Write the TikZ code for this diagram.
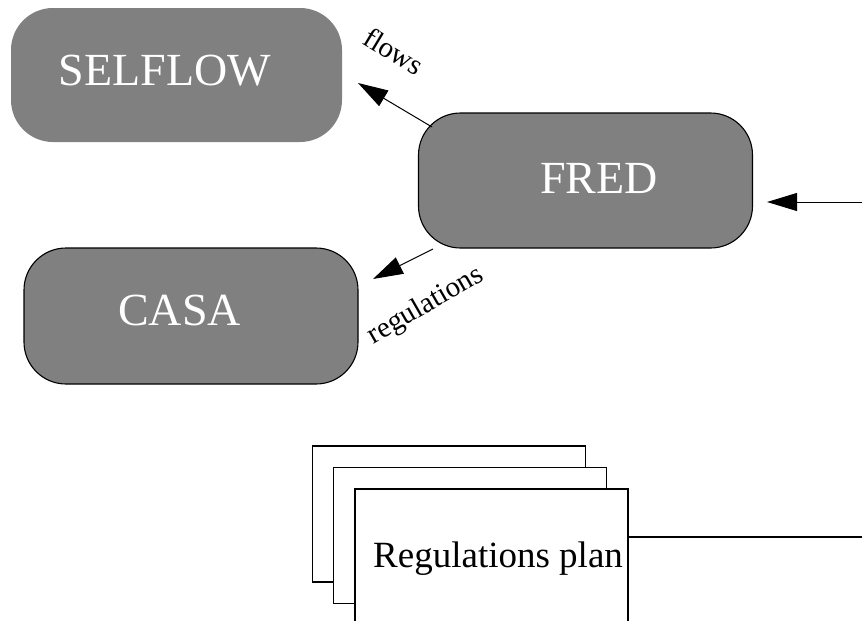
\documentclass[tikz,border=0pt]{standalone}
\usepackage{fontspec}
\setmainfont{Liberation Serif}
\usetikzlibrary{arrows.meta}
\begin{document}
\begin{tikzpicture}[x=1pt,y=-1pt,
  procbox/.style={rectangle, rounded corners=42pt, fill=boxgray, line width=1.1pt,
    inner sep=0pt, minimum width=334pt, minimum height=135pt},
  boxlabel/.style={text=white, inner sep=0pt, font=\fontsize{46}{50}\selectfont},
  edgelabel/.style={inner sep=0pt, font=\fontsize{29}{32}\selectfont},
  sheet/.style={rectangle, draw=black, fill=white, line width=1.3pt, inner sep=0pt,
    minimum width=273pt, minimum height=136pt},
  flowarrow/.style={draw=black, line width=1pt, -{Triangle[length=30pt,width=18pt]}}]
\definecolor{boxgray}{HTML}{808080}
\useasboundingbox (0,0) rectangle (862,621);
\clip (0,0) rectangle (862,621);

% subsystem boxes
\node[procbox, minimum width=331pt, minimum height=134pt] (selflow) at (176.5,75) {};
\node[boxlabel] at (165,71) {SELFLOW};
\node[procbox, draw=black] (fred) at (585.5,180.5) {};
\node[boxlabel] at (599,178.5) {FRED};
\node[procbox, draw=black, minimum height=136pt] (casa) at (191,316) {};
\node[boxlabel] at (179.5,310) {CASA};

% stacked plan sheets
\node[sheet] (sheetA) at (449,514) {};
\node[sheet] (sheetB) at (470,535.5) {};
\node[sheet] (sheetC) at (491.5,557) {};
\node[font=\fontsize{37}{40}\selectfont, inner sep=0pt, anchor=base west] (plan) at (373,567) {Regulations plan};

% connectors
\coordinate (flowsfrom) at (432,127);
\coordinate (flowsto) at (358,83);
\coordinate (regsfrom) at (433,249);
\coordinate (regsto) at (373,279);
\coordinate (fredin) at (862,202);
\coordinate (planout) at (862,537);

\draw[flowarrow] (flowsfrom) -- (flowsto);
\draw[flowarrow] (regsfrom) -- (regsto);
\draw[flowarrow, shorten >=14pt] (fredin) -- (fredin -| fred.east);
\draw[line width=1.1pt] (planout -| sheetC.east) -- (planout);

% edge labels
\node[edgelabel, rotate=-31] at (394,51) {flows};
\node[edgelabel, rotate=30] at (426,306) {regulations};
\end{tikzpicture}
\end{document}
